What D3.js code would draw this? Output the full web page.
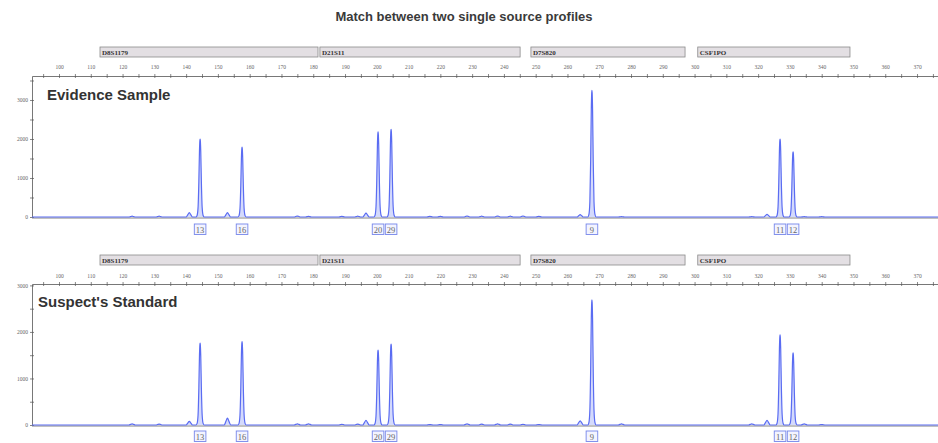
<!DOCTYPE html>
<html><head><meta charset="utf-8">
<script src="https://cdn.jsdelivr.net/npm/d3@7"></script>
<style>body{margin:0;background:#fff}svg{display:block}</style>
</head><body>
<svg id="c" width="938" height="443"></svg>
<script>
// ---- data ----
const title = "Match between two single source profiles";
const panelNames = ["Evidence Sample", "Suspect's Standard"];
const loci = ["D8S1179", "D21S11", "D7S820", "CSF1PO"];
const lociStart = [112.9, 182.1, 248.5, 301.0];
const lociEnd = [181.5, 245.1, 297.0, 348.9];
const alleles = ["13", "16", "20", "29", "9", "11", "12"];
const allelePos = [144.4, 157.6, 200.4, 204.5, 267.7, 326.9, 331.0];
const evidenceHeights = [2000, 1790, 2180, 2250, 3250, 2000, 1670];
const suspectHeights = [1760, 1790, 1610, 1740, 2690, 1935, 1550];
const bumpPos = [123, 131.5, 141, 153, 175, 178.5, 189, 194, 196.6, 216.7, 220, 228.4, 233, 238, 242, 246, 251, 264, 277, 318, 322.8, 334.5, 340];
const evidenceBumps = [20, 20, 110, 110, 25, 15, 15, 20, 100, 15, 15, 25, 20, 25, 20, 25, 15, 60, 10, 10, 70, 10, 10];
const suspectBumps = [25, 20, 80, 150, 25, 25, 15, 20, 100, 10, 10, 25, 20, 25, 20, 15, 10, 90, 25, 25, 100, 25, 10];
const yTickVals = [0, 1000, 2000, 3000];

// ---- layout ----
const svg = d3.select("#c");
const x = d3.scaleLinear().domain([91.5, 376.6]).range([32, 938]);
const panels = [
  {name: panelNames[0], heights: evidenceHeights, bumps: evidenceBumps, lociY: 47, tickLabY: 69, axisY: 76, base: 217, ymax: 3615, nameX: 47, nameY: 100, boxY: 224},
  {name: panelNames[1], heights: suspectHeights, bumps: suspectBumps, lociY: 255, tickLabY: 278, axisY: 284, base: 425, ymax: 3030, nameX: 38, nameY: 307, boxY: 431}
];
const blue = "#5a6cf2";
const shapeOff = [-1.3, -0.95, -0.65, -0.4, -0.2, -0.07, 0, 0.07, 0.2, 0.4, 0.65, 0.95, 1.3];
const shapeRel = [0, 0.02, 0.12, 0.45, 0.85, 0.98, 1, 0.98, 0.85, 0.45, 0.12, 0.02, 0];
const bumpOff = [-1.0, -0.5, 0, 0.5, 1.0];
const bumpRel = [0, 0.5, 1, 0.5, 0];

svg.append("text").attr("x", 464).attr("y", 21).attr("text-anchor", "middle")
  .attr("font-family", "Liberation Sans, Arial, sans-serif").attr("font-weight", "bold")
  .attr("font-size", 13).attr("fill", "#3a3a3a").text(title);

panels.forEach(p => {
  const g = svg.append("g");
  const y = d3.scaleLinear().domain([0, p.ymax]).range([p.base, p.axisY]);

  // locus bars
  loci.forEach((l, i) => {
    g.append("rect").attr("x", x(lociStart[i])).attr("y", p.lociY)
      .attr("width", x(lociEnd[i]) - x(lociStart[i])).attr("height", 10)
      .attr("fill", "#e3dfe3").attr("stroke", "#8a8a8a").attr("stroke-width", 0.8);
    g.append("text").attr("x", x(lociStart[i]) + 2).attr("y", p.lociY + 7.5)
      .attr("font-family", "Liberation Serif, serif").attr("font-weight", "bold")
      .attr("font-size", 7).attr("fill", "#333").text(l);
  });

  // top ruler axis
  const ruler = d3.axisTop(x).tickValues(d3.range(95, 377, 5)).tickSize(0).tickFormat(d => d % 10 === 0 ? d : "");
  const ra = g.append("g").attr("transform", `translate(0,${p.axisY})`).call(ruler);
  ra.select(".domain").attr("stroke", "#555").attr("stroke-width", 0.8);
  ra.selectAll(".tick text").attr("y", p.tickLabY - p.axisY).attr("dy", 0)
    .attr("font-family", "Liberation Serif, serif").attr("font-size", 5.5).attr("fill", "#666");
  ra.selectAll(".tick").append("line").attr("y1", -2).attr("y2", 2).attr("stroke", "#555").attr("stroke-width", 0.7);

  // y axis
  const yax = d3.axisLeft(y).tickValues(d3.range(0, p.ymax, 500)).tickSize(0).tickFormat(d => yTickVals.includes(d) ? d : "");
  const ya = g.append("g").attr("transform", `translate(32,0)`).call(yax);
  ya.select(".domain").attr("stroke", "#555").attr("stroke-width", 0.8);
  ya.selectAll(".tick text").attr("x", -4)
    .attr("font-family", "Liberation Serif, serif").attr("font-size", 5.5).attr("fill", "#666");
  ya.selectAll(".tick").append("line").attr("x1", -2).attr("x2", 2).attr("stroke", "#555").attr("stroke-width", 0.7);

  // baseline axis line
  g.append("line").attr("x1", 32).attr("x2", 938).attr("y1", p.base + 1).attr("y2", p.base + 1)
    .attr("stroke", "#666").attr("stroke-width", 0.8);

  // trace points
  let pts = [[x.domain()[0], 0], [x.domain()[1], 0]];
  allelePos.forEach((bp, i) => shapeOff.forEach((o, k) => pts.push([bp + o, p.heights[i] * shapeRel[k]])));
  bumpPos.forEach((bp, i) => bumpOff.forEach((o, k) => pts.push([bp + o, p.bumps[i] * bumpRel[k]])));
  pts.sort((a, b) => a[0] - b[0]);

  const area = d3.area().x(d => x(d[0])).y0(p.base).y1(d => y(d[1])).curve(d3.curveMonotoneX);
  const line = d3.line().x(d => x(d[0])).y(d => y(d[1])).curve(d3.curveMonotoneX);
  g.append("path").datum(pts).attr("d", area).attr("fill", "#c6cdfb").attr("opacity", 0.75);
  g.append("path").datum(pts).attr("d", line).attr("fill", "none").attr("stroke", blue).attr("stroke-width", 1.2);

  // allele labels
  alleles.forEach((a, i) => {
    const cx = x(allelePos[i]);
    g.append("rect").attr("x", cx - 5.8).attr("y", p.boxY).attr("width", 11.6).attr("height", 10.5)
      .attr("fill", "#f3f4ff").attr("stroke", "#7686ea").attr("stroke-width", 0.9);
    g.append("text").attr("x", cx).attr("y", p.boxY + 8.5).attr("text-anchor", "middle")
      .attr("font-family", "Liberation Serif, serif").attr("font-size", 8.5).attr("fill", "#666").text(a);
  });

  // panel name
  g.append("text").attr("x", p.nameX).attr("y", p.nameY)
    .attr("font-family", "Liberation Sans, Arial, sans-serif").attr("font-weight", "bold")
    .attr("font-size", 15).attr("fill", "#333").text(p.name);
});
</script>
</body></html>
